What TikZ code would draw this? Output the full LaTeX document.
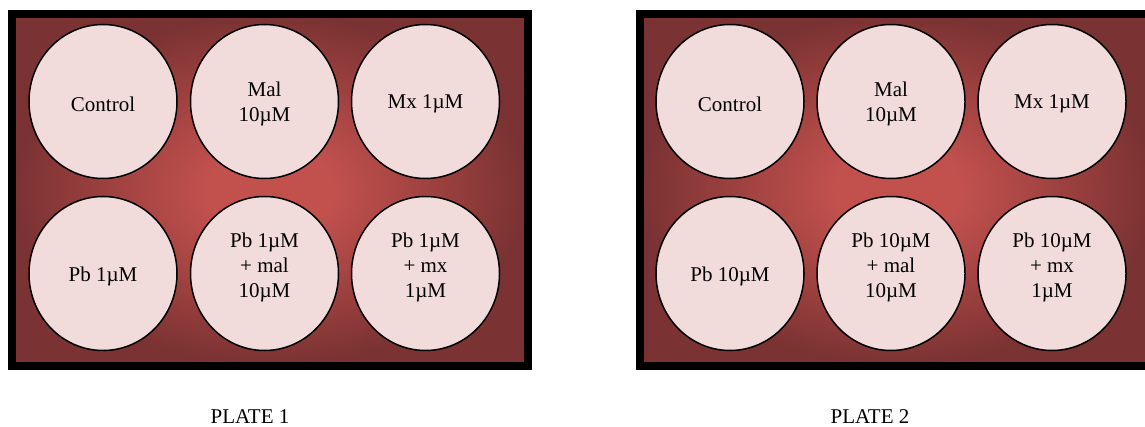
\documentclass[tikz,border=0pt]{standalone}
\usepackage{fontspec}
\setmainfont{Liberation Serif}
\usetikzlibrary{shapes.geometric}

% plate colours: red centre fading to a dark maroon rim, pale pink wells
\definecolor{platemid}{RGB}{194,81,78}
\definecolor{plateedge}{RGB}{122,50,50}
\definecolor{wellfill}{RGB}{242,220,219}

% radius 25bp reaches the middle of each side of the filled box
\pgfdeclareradialshading{plateglow}{\pgfpoint{0bp}{0bp}}{%
  color(0bp)=(platemid);
  color(6bp)=(platemid);
  color(25bp)=(plateedge);
  color(50bp)=(plateedge)}

\tikzset{
  platebody/.style={shading=plateglow},
  plateframe/.style={draw=black, line width=8pt},
  well/.style={ellipse, draw=black, line width=1.5pt, fill=wellfill,
    minimum width=148pt, minimum height=154pt, inner sep=0pt},
  welltext/.style={align=center, font=\fontsize{21}{25}\selectfont,
    inner sep=0pt, yshift=-2.5pt},
  welltext3/.style={welltext, yshift=8.5pt},
  caption/.style={font=\fontsize{21}{25}\selectfont, anchor=base,
    inner sep=0pt}
}

\begin{document}
\begin{tikzpicture}[x=1pt, y=-1pt]
  \useasboundingbox (0,0) rectangle (1145,427);
  \clip (0,0) rectangle (1145,427);

  % ---- plate 1 ----
  \path[platebody] (12,14) rectangle (528,366);
  \draw[plateframe] (12,14) rectangle (528,366);

  \node[well, label={[welltext]center:Control}] (p1a) at (103,101.5) {};
  \node[well, label={[welltext]center:Mal\\10µM}] (p1b) at (264.5,101.5) {};
  \node[well, label={[welltext]center:Mx 1µM}] (p1c) at (425.5,101.5) {};
  \node[well, label={[welltext]center:Pb 1µM}] (p1d) at (103,273.5) {};
  \node[well, label={[welltext3]center:Pb 1µM\\+ mal\\10µM}] (p1e) at (264.5,273.5) {};
  \node[well, label={[welltext3]center:Pb 1µM\\+ mx\\1µM}] (p1f) at (425.5,273.5) {};

  \node[caption] (cap1) at (250,423) {PLATE 1};

  % ---- plate 2 ----
  \path[platebody] (640,14) rectangle (1156,366);
  \draw[plateframe] (640,14) rectangle (1156,366);

  \node[well, label={[welltext]center:Control}] (p2a) at (730,101.5) {};
  \node[well, label={[welltext]center:Mal\\10µM}] (p2b) at (891,101.5) {};
  \node[well, label={[welltext]center:Mx 1µM}] (p2c) at (1052,101.5) {};
  \node[well, label={[welltext]center:Pb 10µM}] (p2d) at (730,273.5) {};
  \node[well, label={[welltext3]center:Pb 10µM\\+ mal\\10µM}] (p2e) at (891,273.5) {};
  \node[well, label={[welltext3]center:Pb 10µM\\+ mx\\1µM}] (p2f) at (1052,273.5) {};

  \node[caption] (cap2) at (870,423) {PLATE 2};
\end{tikzpicture}
\end{document}
